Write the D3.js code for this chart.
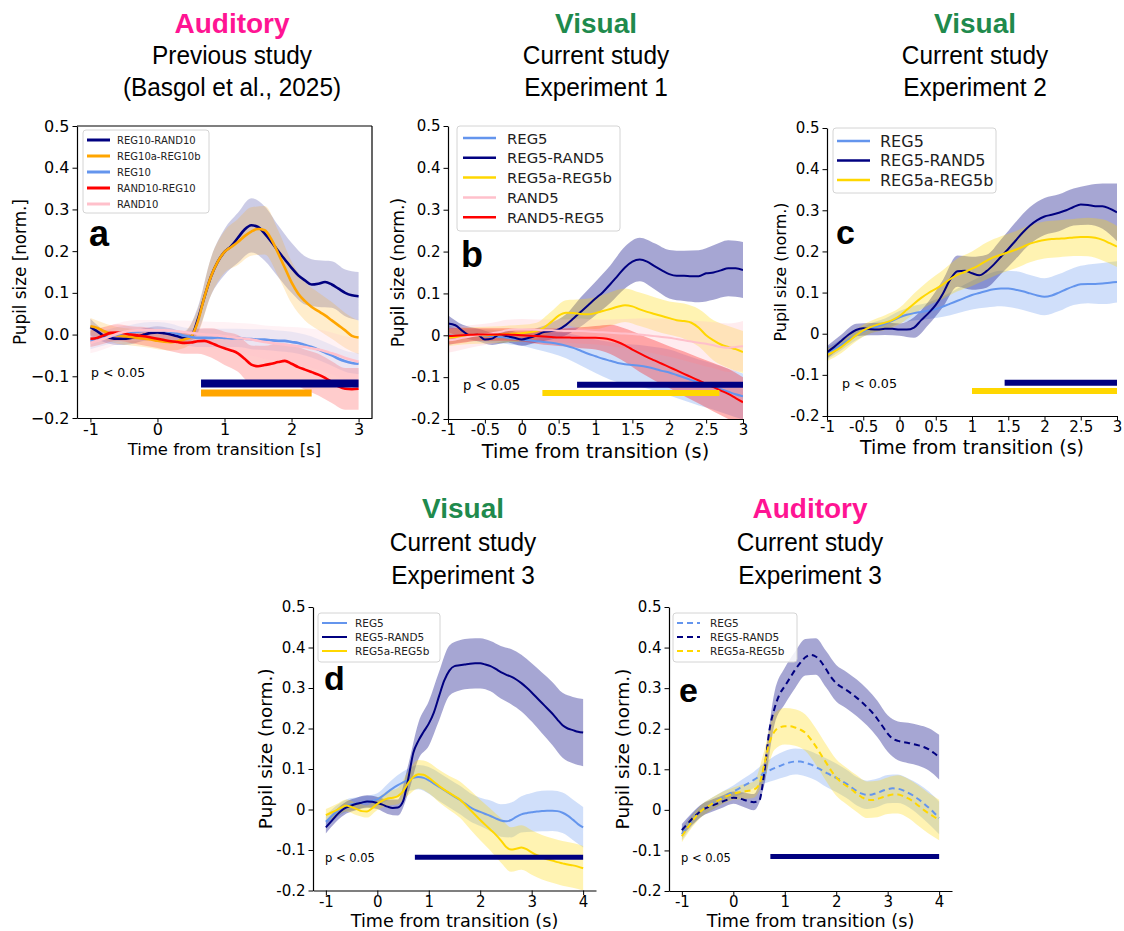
<!DOCTYPE html>
<html>
<head>
<meta charset="utf-8">
<script src="https://cdn.jsdelivr.net/npm/d3@7"></script>
<style>
  body { margin: 0; background: #ffffff; }
  svg { display: block; }
</style>
</head>
<body>
<svg id="fig" width="1124" height="931"></svg>
<script>
// ---------------------------------------------------------------
// Time grids (s from transition)
// ---------------------------------------------------------------
const timeShort = [-1.0,-0.9,-0.8,-0.7,-0.6,-0.5,-0.4,-0.3,-0.2,-0.1,0.0,0.1,0.2,0.3,0.4,0.5,0.6,0.7,0.8,0.9,
  1.0,1.1,1.2,1.3,1.4,1.5,1.6,1.7,1.8,1.9,2.0,2.1,2.2,2.3,2.4,2.5,2.6,2.7,2.8,2.9,3.0];
const timeLong = [-1.0,-0.9,-0.8,-0.7,-0.6,-0.5,-0.4,-0.3,-0.2,-0.1,0.0,0.1,0.2,0.3,0.4,0.5,0.6,0.7,0.8,0.9,
  1.0,1.1,1.2,1.3,1.4,1.5,1.6,1.7,1.8,1.9,2.0,2.1,2.2,2.3,2.4,2.5,2.6,2.7,2.8,2.9,3.0,
  3.1,3.2,3.3,3.4,3.5,3.6,3.7,3.8,3.9,4.0];
// error bands are given every 0.2 s
const bandTimeShort = [-1.0,-0.8,-0.6,-0.4,-0.2,0.0,0.2,0.4,0.6,0.8,1.0,1.2,1.4,1.6,1.8,2.0,2.2,2.4,2.6,2.8,3.0];
const bandTimeLong = [-1.0,-0.8,-0.6,-0.4,-0.2,0.0,0.2,0.4,0.6,0.8,1.0,1.2,1.4,1.6,1.8,2.0,2.2,2.4,2.6,2.8,3.0,
  3.2,3.4,3.6,3.8,4.0];

// ---------------------------------------------------------------
// Panel a: auditory, previous study
// ---------------------------------------------------------------
const aNames = ["REG10-RAND10", "REG10a-REG10b", "REG10", "RAND10-REG10", "RAND10"];
const aReg10Rand10 = [0.018,0.008,-0.003,-0.008,-0.010,-0.010,-0.008,-0.005,0.000,0.004,0.005,0.003,0.000,-0.004,-0.008,-0.005,
  0.035,0.090,0.140,0.175,0.198,0.212,0.232,0.252,0.262,0.258,0.242,0.222,0.200,0.180,0.160,0.142,0.130,0.120,0.122,0.126,
  0.120,0.110,0.100,0.094,0.092];
const aReg10Rand10Err = [0.020,0.015,0.015,0.015,0.015,0.015,0.015,0.015,0.030,0.045,0.055,0.060,0.065,0.065,0.062,0.060,0.058,0.056,0.056,0.056,0.058];
const aReg10aReg10b = [0.020,0.016,0.008,0.002,-0.002,-0.004,-0.006,-0.008,-0.010,-0.012,-0.015,-0.017,-0.018,-0.016,-0.012,-0.005,
  0.030,0.090,0.140,0.175,0.198,0.210,0.222,0.236,0.247,0.253,0.250,0.228,0.195,0.160,0.125,0.098,0.080,0.066,0.056,0.046,
  0.034,0.022,0.010,-0.003,-0.007];
const aReg10aReg10bErr = [0.020,0.020,0.020,0.020,0.020,0.020,0.020,0.020,0.030,0.045,0.050,0.055,0.058,0.058,0.055,0.050,0.046,0.045,0.044,0.042,0.040];
const aReg10 = [-0.015,-0.012,-0.008,-0.004,0.000,0.003,0.005,0.007,0.009,0.010,0.010,0.009,0.006,0.002,-0.003,-0.006,
  -0.008,-0.008,-0.008,-0.007,-0.008,-0.009,-0.008,-0.010,-0.011,-0.012,-0.012,-0.014,-0.015,-0.015,-0.018,-0.020,-0.025,
  -0.030,-0.036,-0.043,-0.050,-0.058,-0.064,-0.068,-0.070];
const aReg10Err = [0.020,0.018,0.018,0.018,0.020,0.020,0.020,0.020,0.022,0.022,0.022,0.022,0.024,0.025,0.025,0.025,0.025,0.025,0.025,0.025,0.025];
const aRand10Reg10 = [-0.010,-0.008,-0.002,0.004,0.005,0.003,0.000,-0.002,-0.004,-0.007,-0.010,-0.013,-0.016,-0.018,-0.020,-0.019,
  -0.016,-0.015,-0.020,-0.027,-0.033,-0.038,-0.045,-0.058,-0.072,-0.076,-0.073,-0.070,-0.066,-0.063,-0.070,-0.078,-0.084,
  -0.090,-0.096,-0.104,-0.114,-0.124,-0.130,-0.131,-0.130];
const aRand10Reg10Err = [0.020,0.020,0.020,0.020,0.022,0.022,0.024,0.026,0.030,0.035,0.040,0.044,0.046,0.046,0.046,0.046,0.048,0.050,0.050,0.050,0.050];
const aRand10 = [-0.020,-0.015,-0.010,-0.004,0.002,0.006,0.009,0.010,0.010,0.010,0.010,0.010,0.009,0.008,0.006,0.004,
  0.002,0.000,-0.001,-0.002,-0.004,-0.006,-0.008,-0.010,-0.012,-0.015,-0.018,-0.020,-0.022,-0.024,-0.026,-0.028,-0.030,
  -0.033,-0.036,-0.040,-0.045,-0.050,-0.056,-0.061,-0.065];
const aRand10Err = [0.025,0.025,0.025,0.025,0.025,0.025,0.025,0.028,0.030,0.032,0.034,0.036,0.038,0.040,0.042,0.044,0.046,0.048,0.050,0.052,0.055];
// significant clusters: start, end, bar level
const aSigStart = [0.65, 0.65];
const aSigEnd = [3.0, 2.3];
const aSigLevel = [-0.117, -0.14];

// ---------------------------------------------------------------
// Panel b: visual, experiment 1
// ---------------------------------------------------------------
const bNames = ["REG5", "REG5-RAND5", "REG5a-REG5b", "RAND5", "RAND5-REG5"];
const bReg5 = [0.000,-0.002,-0.001,0.000,0.000,-0.001,-0.002,-0.004,-0.006,-0.008,-0.010,-0.012,-0.014,-0.016,-0.018,-0.021,
  -0.025,-0.030,-0.037,-0.044,-0.050,-0.056,-0.061,-0.066,-0.069,-0.071,-0.073,-0.076,-0.080,-0.085,-0.089,-0.095,-0.101,
  -0.107,-0.113,-0.118,-0.123,-0.129,-0.135,-0.141,-0.146];
const bReg5Err = [0.025,0.015,0.015,0.015,0.015,0.015,0.020,0.025,0.030,0.035,0.040,0.045,0.048,0.050,0.052,0.055,0.055,0.055,0.055,0.055,0.055];
const bReg5Rand5 = [0.028,0.024,0.010,0.000,0.001,-0.010,-0.008,0.002,-0.002,-0.006,-0.010,-0.006,0.000,0.008,0.010,0.014,
  0.025,0.040,0.056,0.072,0.088,0.103,0.122,0.142,0.162,0.176,0.181,0.176,0.165,0.155,0.146,0.142,0.142,0.141,0.141,0.148,
  0.150,0.155,0.160,0.160,0.156];
const bReg5Rand5Err = [0.020,0.015,0.015,0.015,0.015,0.015,0.017,0.020,0.025,0.035,0.040,0.045,0.050,0.052,0.055,0.058,0.060,0.062,0.065,0.067,0.067];
const bReg5aReg5b = [-0.006,-0.004,-0.002,0.000,0.000,0.000,0.001,0.002,0.003,0.004,0.005,0.007,0.010,0.018,0.032,0.047,
  0.054,0.053,0.051,0.050,0.053,0.058,0.063,0.068,0.072,0.069,0.062,0.056,0.051,0.046,0.041,0.036,0.034,0.030,0.018,0.000,
  -0.012,-0.022,-0.028,-0.033,-0.040];
const bReg5aReg5bErr = [0.020,0.020,0.020,0.020,0.020,0.020,0.020,0.025,0.030,0.035,0.038,0.040,0.040,0.040,0.040,0.040,0.042,0.045,0.048,0.050,0.050];
const bRand5 = [-0.012,-0.010,-0.006,-0.003,0.000,0.002,0.005,0.008,0.012,0.014,0.014,0.014,0.013,0.012,0.012,0.011,
  0.010,0.010,0.010,0.009,0.008,0.007,0.006,0.005,0.004,0.003,0.002,0.000,-0.002,-0.004,-0.006,-0.009,-0.012,-0.015,
  -0.018,-0.020,-0.024,-0.028,-0.030,-0.028,-0.026];
const bRand5Err = [0.030,0.028,0.026,0.025,0.025,0.025,0.025,0.026,0.028,0.030,0.030,0.032,0.035,0.038,0.042,0.045,0.048,0.052,0.055,0.058,0.060];
const bRand5Reg5 = [-0.002,-0.001,0.000,0.001,0.002,0.002,0.002,0.002,0.002,0.001,0.000,-0.001,-0.002,-0.003,-0.004,-0.005,
  -0.005,-0.006,-0.006,-0.006,-0.006,-0.007,-0.010,-0.016,-0.024,-0.034,-0.043,-0.052,-0.060,-0.068,-0.076,-0.084,-0.092,
  -0.100,-0.108,-0.116,-0.124,-0.132,-0.140,-0.150,-0.160];
const bRand5Reg5Err = [0.020,0.018,0.015,0.015,0.015,0.015,0.018,0.020,0.022,0.025,0.028,0.035,0.040,0.045,0.048,0.050,0.053,0.055,0.058,0.060,0.060];
const bSigStart = [0.75, 0.28];
const bSigEnd = [3.0, 2.68];
const bSigLevel = [-0.118, -0.138];

// ---------------------------------------------------------------
// Panel c: visual, experiment 2
// ---------------------------------------------------------------
const cNames = ["REG5", "REG5-RAND5", "REG5a-REG5b"];
const cReg5 = [-0.048,-0.038,-0.027,-0.015,-0.004,0.006,0.013,0.018,0.024,0.031,0.040,0.046,0.050,0.053,0.056,0.060,
  0.066,0.073,0.080,0.087,0.094,0.099,0.104,0.108,0.110,0.110,0.107,0.103,0.098,0.093,0.090,0.093,0.100,0.108,0.115,0.120,
  0.121,0.121,0.122,0.124,0.126];
const cReg5Err = [0.015,0.013,0.012,0.012,0.013,0.015,0.018,0.020,0.025,0.030,0.035,0.040,0.043,0.045,0.045,0.045,0.045,0.045,0.047,0.050,0.050];
const cReg5Rand5 = [-0.045,-0.032,-0.017,-0.002,0.009,0.013,0.011,0.010,0.012,0.012,0.010,0.010,0.015,0.033,0.050,0.070,
  0.098,0.132,0.152,0.153,0.147,0.142,0.152,0.168,0.187,0.206,0.226,0.246,0.263,0.276,0.285,0.289,0.294,0.300,0.308,0.314,
  0.313,0.310,0.310,0.304,0.295];
const cReg5Rand5Err = [0.015,0.015,0.015,0.015,0.015,0.015,0.025,0.028,0.033,0.038,0.040,0.040,0.042,0.045,0.045,0.045,0.045,0.045,0.048,0.055,0.070];
const cReg5aReg5b = [-0.052,-0.043,-0.032,-0.018,-0.004,0.008,0.016,0.022,0.027,0.033,0.043,0.058,0.073,0.087,0.099,0.109,
  0.120,0.133,0.143,0.150,0.158,0.167,0.177,0.186,0.192,0.198,0.204,0.211,0.219,0.224,0.228,0.230,0.231,0.232,0.234,0.235,
  0.235,0.233,0.228,0.220,0.212];
const cReg5aReg5bErr = [0.015,0.015,0.015,0.015,0.018,0.020,0.025,0.030,0.035,0.040,0.042,0.045,0.045,0.045,0.045,0.045,0.045,0.045,0.047,0.050,0.050];
const cSigStart = [1.45, 1.0];
const cSigEnd = [3.0, 3.0];
const cSigLevel = [-0.119, -0.139];

// ---------------------------------------------------------------
// Panel d: visual, experiment 3
// ---------------------------------------------------------------
const dNames = ["REG5", "REG5-RAND5", "REG5a-REG5b"];
const dReg5 = [-0.030,-0.018,-0.006,0.004,0.010,0.013,0.015,0.017,0.019,0.021,0.025,0.033,0.043,0.052,0.060,0.067,
  0.073,0.078,0.080,0.078,0.072,0.064,0.056,0.048,0.040,0.032,0.024,0.015,0.006,-0.001,-0.006,-0.011,-0.016,-0.022,-0.027,
  -0.029,-0.026,-0.018,-0.012,-0.009,-0.007,-0.005,-0.004,-0.003,-0.003,-0.004,-0.008,-0.015,-0.025,-0.036,-0.044];
const dReg5Err = [0.015,0.015,0.015,0.015,0.015,0.015,0.020,0.025,0.028,0.030,0.033,0.035,0.035,0.035,0.035,0.035,0.038,0.040,0.043,0.045,0.048,
  0.050,0.050,0.050,0.050,0.050];
const dReg5Rand5 = [-0.044,-0.030,-0.015,-0.003,0.005,0.010,0.014,0.017,0.020,0.019,0.016,0.012,0.007,0.004,0.005,0.020,
  0.075,0.140,0.170,0.192,0.212,0.240,0.280,0.318,0.343,0.354,0.356,0.358,0.360,0.361,0.361,0.358,0.354,0.347,0.339,0.333,
  0.328,0.321,0.312,0.301,0.289,0.276,0.263,0.250,0.237,0.222,0.208,0.200,0.196,0.192,0.190];
const dReg5Rand5Err = [0.015,0.015,0.015,0.015,0.015,0.015,0.018,0.020,0.035,0.045,0.055,0.060,0.062,0.062,0.062,0.062,0.062,0.065,0.068,0.070,
  0.072,0.075,0.078,0.080,0.082,0.083];
const dReg5aReg5b = [-0.014,-0.008,-0.002,0.005,0.010,0.006,0.001,-0.004,-0.005,0.003,0.014,0.022,0.027,0.029,0.033,0.045,
  0.065,0.080,0.087,0.086,0.078,0.068,0.058,0.049,0.041,0.033,0.025,0.013,0.000,-0.013,-0.026,-0.038,-0.050,-0.062,-0.076,
  -0.092,-0.099,-0.097,-0.094,-0.098,-0.106,-0.113,-0.118,-0.123,-0.126,-0.130,-0.133,-0.136,-0.138,-0.141,-0.145];
const dReg5aReg5bErr = [0.015,0.015,0.015,0.015,0.015,0.015,0.018,0.020,0.030,0.035,0.038,0.040,0.042,0.045,0.048,0.050,0.052,0.055,0.055,0.055,
  0.055,0.055,0.055,0.055,0.055,0.055];
const dSigStart = [0.73];
const dSigEnd = [4.0];
const dSigLevel = [-0.118];

// ---------------------------------------------------------------
// Panel e: auditory, experiment 3
// ---------------------------------------------------------------
const eNames = ["REG5", "REG5-RAND5", "REG5a-REG5b"];
const eReg5 = [-0.060,-0.042,-0.025,-0.010,0.000,0.008,0.016,0.024,0.031,0.038,0.045,0.052,0.059,0.066,0.074,0.082,
  0.090,0.097,0.103,0.108,0.113,0.117,0.119,0.119,0.116,0.112,0.106,0.099,0.092,0.085,0.079,0.072,0.064,0.055,0.046,0.040,
  0.037,0.038,0.042,0.047,0.051,0.053,0.052,0.048,0.042,0.035,0.026,0.016,0.005,-0.007,-0.020];
const eReg5Err = [0.015,0.015,0.015,0.015,0.015,0.015,0.018,0.020,0.025,0.030,0.032,0.032,0.033,0.033,0.035,0.035,0.035,0.035,0.035,0.035,
  0.035,0.035,0.035,0.038,0.040,0.040];
const eReg5Rand5 = [-0.050,-0.036,-0.022,-0.010,0.000,0.006,0.011,0.016,0.021,0.026,0.030,0.029,0.025,0.021,0.019,0.022,
  0.090,0.195,0.250,0.285,0.305,0.325,0.345,0.362,0.376,0.382,0.378,0.366,0.347,0.327,0.312,0.303,0.295,0.286,0.276,0.265,
  0.253,0.240,0.224,0.206,0.188,0.175,0.170,0.167,0.165,0.162,0.159,0.155,0.149,0.140,0.130];
const eReg5Rand5Err = [0.015,0.015,0.015,0.015,0.015,0.015,0.018,0.020,0.030,0.040,0.045,0.045,0.045,0.045,0.045,0.045,0.045,0.045,0.045,0.045,
  0.045,0.048,0.050,0.050,0.052,0.055];
const eReg5aReg5b = [-0.065,-0.046,-0.028,-0.012,0.000,0.008,0.016,0.023,0.030,0.035,0.040,0.043,0.045,0.047,0.050,0.062,
  0.110,0.165,0.193,0.203,0.206,0.206,0.203,0.198,0.190,0.175,0.157,0.137,0.117,0.097,0.080,0.068,0.059,0.050,0.040,0.031,
  0.025,0.024,0.027,0.031,0.035,0.038,0.038,0.034,0.028,0.020,0.010,0.000,-0.009,-0.017,-0.025];
const eReg5aReg5bErr = [0.015,0.015,0.015,0.015,0.015,0.015,0.018,0.020,0.035,0.045,0.045,0.045,0.045,0.045,0.045,0.045,0.045,0.045,0.045,0.045,
  0.045,0.047,0.048,0.050,0.050,0.050];
const eSigStart = [0.72];
const eSigEnd = [4.0];
const eSigLevel = [-0.115];

// ---------------------------------------------------------------
// Axis ticks and titles
// ---------------------------------------------------------------
const yTickValues = [-0.2, -0.1, 0, 0.1, 0.2, 0.3, 0.4, 0.5];
const xTicksWide = [-1, 0, 1, 2, 3];
const xTicksHalf = [-1, -0.5, 0, 0.5, 1, 1.5, 2, 2.5, 3];
const xTicksLong = [-1, 0, 1, 2, 3, 4];
const titleModality = ["Auditory", "Visual", "Visual", "Visual", "Auditory"];
const titleStudy = ["Previous study", "Current study", "Current study", "Current study", "Current study"];
const titleDetail = ["(Basgol et al., 2025)", "Experiment 1", "Experiment 2", "Experiment 3", "Experiment 3"];
const panelLetters = ["a", "b", "c", "d", "e"];

// ---------------------------------------------------------------
// Styles
// ---------------------------------------------------------------
const C = {
  navy: "#000080", orange: "#FFA500", blue: "#6495ED",
  red: "#FF0000", pink: "#FFC0CB", gold: "#FFD700"
};
const FONT = "'DejaVu Sans', Verdana, sans-serif";
const TITLE_FONT = "'Liberation Sans', Arial, sans-serif";
const svg = d3.select("#fig");

const fmtMinusOneDecimal = d => (d < 0 ? "\u2212" : "") + Math.abs(d).toFixed(1);
const fmtPlain = d => String(+d.toFixed(2));

function drawPanel(c) {
  const g = svg.append("g");
  const x = d3.scaleLinear().domain(c.xDomain).range([c.left, c.right]);
  const y = d3.scaleLinear().domain([-0.2, 0.5]).range([c.bottom, c.top]);

  const clipId = "clip-" + c.id;
  svg.append("clipPath").attr("id", clipId).append("rect")
    .attr("x", c.left).attr("y", c.top)
    .attr("width", c.right - c.left).attr("height", c.bottom - c.top);
  const plot = g.append("g").attr("clip-path", `url(#${clipId})`);

  const area = d3.area()
    .x(d => x(d.t)).y0(d => y(d.lo)).y1(d => y(d.hi))
    .curve(d3.curveMonotoneX);
  const line = d3.line()
    .x(d => x(d.t)).y(d => y(d.v))
    .curve(d3.curveMonotoneX);

  // error bands (mean ± half-width at the 0.2 s points)
  c.series.forEach(s => {
    const pts = c.bandTime.map((t, i) => {
      const m = s.mean[i * 2];
      return { t, lo: m - s.err[i], hi: m + s.err[i] };
    });
    plot.append("path").attr("d", area(pts))
      .attr("fill", s.color).attr("fill-opacity", s.bandOpacity);
  });

  // mean traces
  c.series.forEach(s => {
    const pts = c.time.map((t, i) => ({ t, v: s.mean[i] }));
    plot.append("path").attr("d", line(pts))
      .attr("fill", "none").attr("stroke", s.color)
      .attr("stroke-width", c.lineWidth)
      .attr("stroke-dasharray", c.dash || null)
      .attr("stroke-linejoin", "round");
  });

  // significance bars
  c.sig.start.forEach((s0, i) => {
    g.append("line")
      .attr("x1", x(s0)).attr("x2", x(c.sig.end[i]))
      .attr("y1", y(c.sig.level[i])).attr("y2", y(c.sig.level[i]))
      .attr("stroke", c.sig.colors[i]).attr("stroke-width", c.sig.width[i]);
  });

  // axes
  const xAxis = d3.axisBottom(x).tickValues(c.xTicks).tickFormat(c.xFmt)
    .tickSize(4.5).tickSizeOuter(0).tickPadding(1);
  const yAxis = d3.axisLeft(y).tickValues(yTickValues).tickFormat(c.yFmt)
    .tickSize(4.5).tickSizeOuter(0).tickPadding(3);
  [[xAxis, `translate(0,${c.bottom})`], [yAxis, `translate(${c.left},0)`]].forEach(([ax, tr]) => {
    const ag = g.append("g").attr("transform", tr).call(ax)
      .attr("font-family", FONT).attr("font-size", c.tickFont);
    ag.selectAll("path.domain").attr("stroke", "#000").attr("stroke-width", 1.2);
    ag.selectAll(".tick line").attr("stroke", "#000").attr("stroke-width", 1);
    ag.selectAll(".tick text").attr("fill", "#000");
  });
  if (c.box) {
    g.append("line").attr("x1", c.left).attr("x2", c.right).attr("y1", c.top).attr("y2", c.top)
      .attr("stroke", "#000").attr("stroke-width", 1.2);
    g.append("line").attr("x1", c.right).attr("x2", c.right).attr("y1", c.top).attr("y2", c.bottom)
      .attr("stroke", "#000").attr("stroke-width", 1.2);
  }

  // axis labels
  g.append("text").text(c.xLabel)
    .attr("x", (c.left + c.right) / 2).attr("y", c.xLabelY)
    .attr("text-anchor", "middle").attr("font-family", FONT)
    .attr("font-size", c.xLabelFont).attr("fill", "#000");
  g.append("text").text(c.yLabel)
    .attr("transform", `translate(${c.yLabelX},${(c.top + c.bottom) / 2}) rotate(-90)`)
    .attr("text-anchor", "middle").attr("dominant-baseline", "central")
    .attr("font-family", FONT).attr("font-size", c.yLabelFont).attr("fill", "#000");

  // legend
  const L = c.legend;
  const lg = g.append("g");
  lg.append("rect").attr("x", L.x).attr("y", L.y).attr("width", L.w).attr("height", L.h)
    .attr("rx", 3).attr("fill", "#fff").attr("fill-opacity", 0.85)
    .attr("stroke", "#d4d4d4").attr("stroke-width", 1);
  c.series.forEach((s, i) => {
    const yy = L.row0 + i * L.step;
    lg.append("line").attr("x1", L.lx0).attr("x2", L.lx1).attr("y1", yy).attr("y2", yy)
      .attr("stroke", s.color).attr("stroke-width", L.lw)
      .attr("stroke-dasharray", c.dash || null);
    lg.append("text").text(s.name).attr("x", L.tx).attr("y", yy)
      .attr("dominant-baseline", "central").attr("font-family", FONT)
      .attr("font-size", L.font).attr("fill", "#222");
  });

  // panel letter and significance note
  g.append("text").text(c.letter.text).attr("x", c.letter.x).attr("y", c.letter.y)
    .attr("font-family", "'Liberation Sans', Arial, sans-serif").attr("font-weight", "bold")
    .attr("font-size", c.letter.size).attr("fill", "#000");
  g.append("text").text("p < 0.05").attr("x", c.pNote.x).attr("y", c.pNote.y)
    .attr("font-family", FONT).attr("font-size", c.pNote.size).attr("fill", "#000");
}

function series(names, means, errs, colors, opacities) {
  return names.map((n, i) => ({ name: n, mean: means[i], err: errs[i], color: colors[i], bandOpacity: opacities[i] }));
}

const panels = [
  {
    id: "a", left: 77, right: 372, top: 126, bottom: 418, xDomain: [-1.2, 3.2],
    time: timeShort, bandTime: bandTimeShort, xTicks: xTicksWide,
    xFmt: d => String(d), yFmt: fmtMinusOneDecimal, box: true, tickFont: 16,
    xLabel: "Time from transition [s]", xLabelY: 455, xLabelFont: 16.4,
    yLabel: "Pupil size [norm.]", yLabelX: 20, yLabelFont: 16.8,
    lineWidth: 2.6,
    series: series(aNames, [aReg10Rand10, aReg10aReg10b, aReg10, aRand10Reg10, aRand10],
      [aReg10Rand10Err, aReg10aReg10bErr, aReg10Err, aRand10Reg10Err, aRand10Err],
      [C.navy, C.orange, C.blue, C.red, C.pink], [0.2, 0.2, 0.15, 0.2, 0.2]),
    sig: { start: aSigStart, end: aSigEnd, level: aSigLevel, colors: [C.navy, C.orange], width: [8, 7] },
    legend: { x: 83, y: 130, w: 126, h: 83, row0: 140, step: 16, lx0: 87, lx1: 110, tx: 117, font: 10, lw: 3 },
    letter: { text: panelLetters[0], x: 89, y: 246, size: 36 },
    pNote: { x: 91, y: 377, size: 12.5 }
  },
  {
    id: "b", left: 448, right: 743, top: 126, bottom: 419, xDomain: [-1, 3],
    time: timeShort, bandTime: bandTimeShort, xTicks: xTicksHalf,
    xFmt: fmtPlain, yFmt: fmtPlain, box: false, tickFont: 15,
    xLabel: "Time from transition (s)", xLabelY: 457.5, xLabelFont: 19.3,
    yLabel: "Pupil size (norm.)", yLabelX: 398, yLabelFont: 17.2,
    lineWidth: 2,
    series: series(bNames, [bReg5, bReg5Rand5, bReg5aReg5b, bRand5, bRand5Reg5],
      [bReg5Err, bReg5Rand5Err, bReg5aReg5bErr, bRand5Err, bRand5Reg5Err],
      [C.blue, C.navy, C.gold, C.pink, C.red], [0.3, 0.35, 0.3, 0.3, 0.3]),
    sig: { start: bSigStart, end: bSigEnd, level: bSigLevel, colors: [C.navy, C.gold], width: [6, 6] },
    legend: { x: 457, y: 126, w: 163, h: 105, row0: 138, step: 19.8, lx0: 463, lx1: 496, tx: 507, font: 14.8, lw: 2.5 },
    letter: { text: panelLetters[1], x: 461, y: 267, size: 36 },
    pNote: { x: 463, y: 390, size: 13.2 }
  },
  {
    id: "c", left: 827, right: 1117, top: 128, bottom: 416, xDomain: [-1, 3],
    time: timeShort, bandTime: bandTimeShort, xTicks: xTicksHalf,
    xFmt: fmtPlain, yFmt: fmtPlain, box: false, tickFont: 15,
    xLabel: "Time from transition (s)", xLabelY: 453.5, xLabelFont: 19,
    yLabel: "Pupil size (norm.)", yLabelX: 780, yLabelFont: 16,
    lineWidth: 2,
    series: series(cNames, [cReg5, cReg5Rand5, cReg5aReg5b],
      [cReg5Err, cReg5Rand5Err, cReg5aReg5bErr],
      [C.blue, C.navy, C.gold], [0.3, 0.35, 0.3]),
    sig: { start: cSigStart, end: cSigEnd, level: cSigLevel, colors: [C.navy, C.gold], width: [6, 6] },
    legend: { x: 833, y: 128, w: 163, h: 65, row0: 141, step: 19.5, lx0: 837, lx1: 870, tx: 880, font: 16, lw: 2.5 },
    letter: { text: panelLetters[2], x: 836, y: 244, size: 34 },
    pNote: { x: 842, y: 388, size: 12.7 }
  },
  {
    id: "d", left: 313, right: 596, top: 607, bottom: 890.5, xDomain: [-1.25, 4.25],
    time: timeLong, bandTime: bandTimeLong, xTicks: xTicksLong,
    xFmt: fmtPlain, yFmt: fmtPlain, box: false, tickFont: 15,
    xLabel: "Time from transition (s)", xLabelY: 926.5, xLabelFont: 17.6,
    yLabel: "Pupil size (norm.)", yLabelX: 265, yLabelFont: 18.5,
    lineWidth: 2,
    series: series(dNames, [dReg5, dReg5Rand5, dReg5aReg5b],
      [dReg5Err, dReg5Rand5Err, dReg5aReg5bErr],
      [C.blue, C.navy, C.gold], [0.3, 0.35, 0.3]),
    sig: { start: dSigStart, end: dSigEnd, level: dSigLevel, colors: [C.navy], width: [5] },
    legend: { x: 318, y: 613, w: 122, h: 49, row0: 623, step: 14, lx0: 322, lx1: 347, tx: 355, font: 10.5, lw: 2 },
    letter: { text: panelLetters[3], x: 324, y: 690, size: 34 },
    pNote: { x: 325, y: 862, size: 11.5 }
  },
  {
    id: "e", left: 669, right: 952, top: 607, bottom: 891, xDomain: [-1.25, 4.25],
    time: timeLong, bandTime: bandTimeLong, xTicks: xTicksLong,
    xFmt: fmtPlain, yFmt: fmtPlain, box: false, tickFont: 15,
    xLabel: "Time from transition (s)", xLabelY: 927, xLabelFont: 17.6,
    yLabel: "Pupil size (norm.)", yLabelX: 622, yLabelFont: 18.5,
    lineWidth: 2, dash: "6,4",
    series: series(eNames, [eReg5, eReg5Rand5, eReg5aReg5b],
      [eReg5Err, eReg5Rand5Err, eReg5aReg5bErr],
      [C.blue, C.navy, C.gold], [0.3, 0.35, 0.3]),
    sig: { start: eSigStart, end: eSigEnd, level: eSigLevel, colors: [C.navy], width: [5] },
    legend: { x: 673, y: 613, w: 124, h: 49, row0: 623, step: 14, lx0: 677, lx1: 700, tx: 710, font: 10.5, lw: 2 },
    letter: { text: panelLetters[4], x: 679, y: 702, size: 34 },
    pNote: { x: 681, y: 862, size: 11.5 }
  }
];

panels.forEach(drawPanel);

// ---------------------------------------------------------------
// Column titles
// ---------------------------------------------------------------
const titleCenters = [232, 596, 975, 463, 810];
const titleRows = [[33, 64, 96], [33, 64, 96], [33, 64, 96], [518, 551, 584], [518, 551, 584]];
const modalityColor = { Auditory: "#FF1493", Visual: "#1F8A4D" };

// narrow title face: fit the sans face to the condensed title widths
function fitScale(text, size, weight, target) {
  const probe = svg.append("text").text(text)
    .attr("font-family", TITLE_FONT).attr("font-size", size).attr("font-weight", weight);
  const w = probe.node().getComputedTextLength();
  probe.remove();
  return Math.min(1, target / w);
}
const condenseBold = fitScale("Auditory", 28, "bold", 117);
const condenseRegular = fitScale("Previous study", 26, "normal", 160);

titleModality.forEach((m, i) => {
  const lines = [
    { text: m, size: 28, weight: "bold", color: modalityColor[m], sx: condenseBold },
    { text: titleStudy[i], size: 26, weight: "normal", color: "#000", sx: condenseRegular },
    { text: titleDetail[i], size: 26, weight: "normal", color: "#000", sx: condenseRegular }
  ];
  lines.forEach((ln, k) => {
    svg.append("text").text(ln.text)
      .attr("transform", `translate(${titleCenters[i]},${titleRows[i][k]}) scale(${ln.sx},1)`)
      .attr("text-anchor", "middle")
      .attr("font-family", TITLE_FONT).attr("font-size", ln.size)
      .attr("font-weight", ln.weight).attr("fill", ln.color);
  });
});
</script>
</body>
</html>
